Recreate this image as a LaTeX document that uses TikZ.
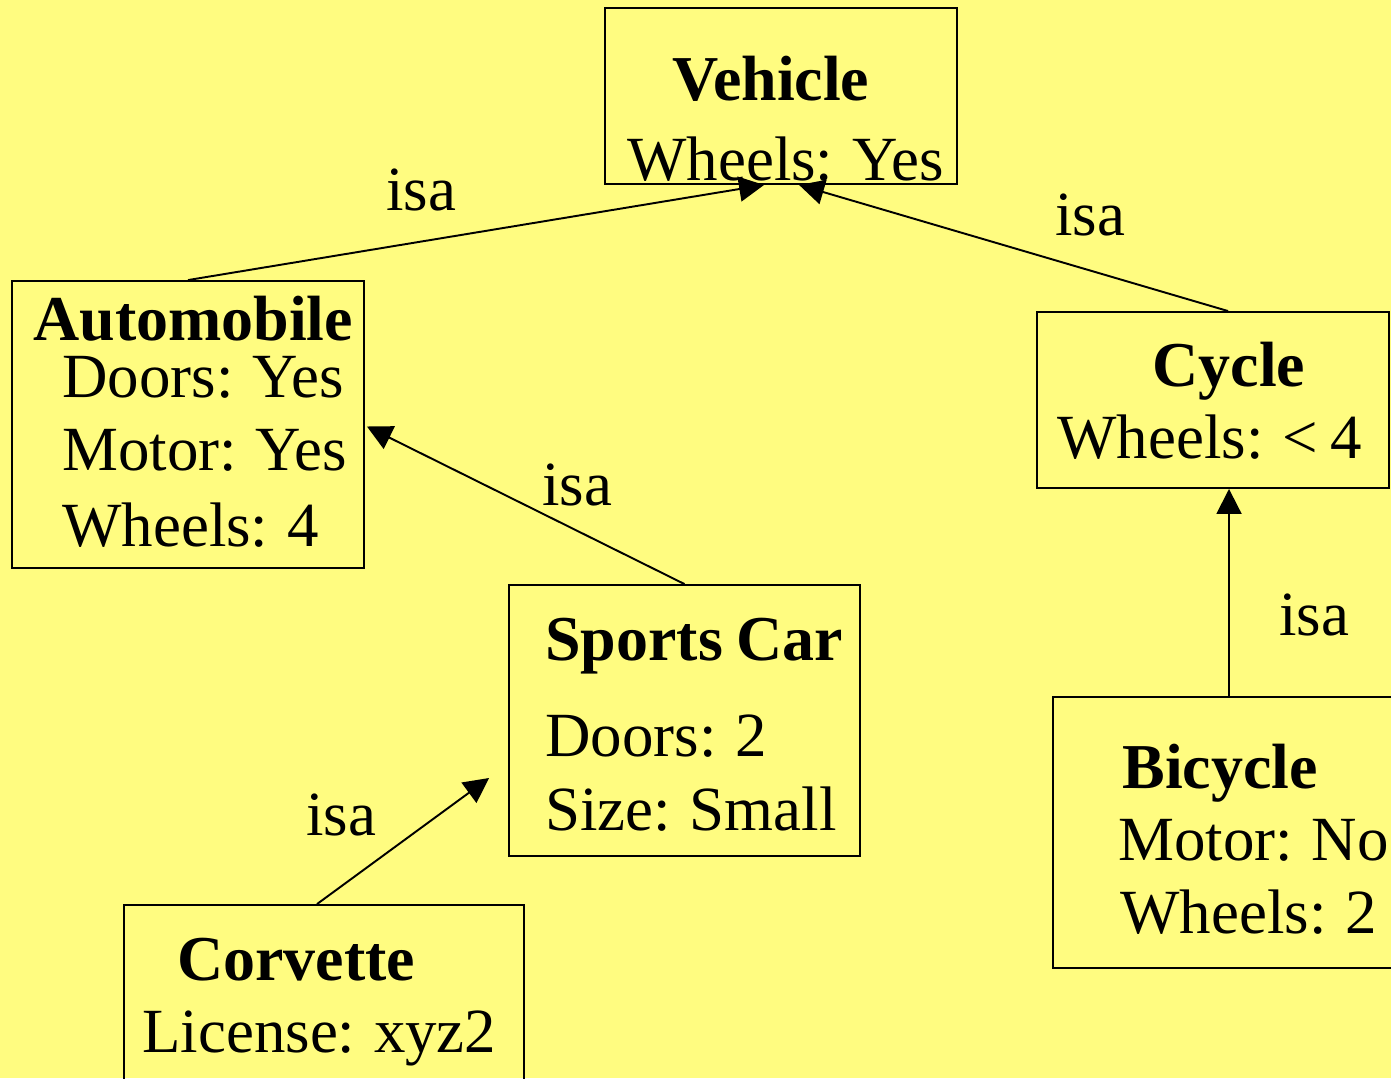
\documentclass[tikz,border=0pt]{standalone}
\usepackage{fontspec}
\setmainfont{Liberation Serif}[WordSpace=0.85]
\usetikzlibrary{arrows.meta,calc}
\definecolor{bgyellow}{RGB}{255,252,128}
\begin{document}
\begin{tikzpicture}[x=0.02cm,y=-0.02cm,
  box/.style={draw,line width=1.1pt,inner sep=0pt},
  txt/.style={inner sep=0pt,anchor=base west,font=\fontsize{35.8}{42}\selectfont},
  ttl/.style={txt,font=\fontsize{36.4}{42}\selectfont\bfseries},
  isaarrow/.style={line width=1.1pt,-{Triangle[length=0.5cm,width=0.5cm]}}]
\useasboundingbox (0,0) rectangle (1391,1078);
\fill[bgyellow] (0,0) rectangle (1391,1078);
\clip (0,0) rectangle (1391,1078);
% boxes
\node[box,minimum width=7.04cm,minimum height=3.52cm] (veh) at (781,96) {};
\node[box,minimum width=7.04cm,minimum height=5.74cm] (auto) at (188,424.5) {};
\node[box,minimum width=7.04cm,minimum height=3.52cm] (cyc) at (1213,400) {};
\node[box,minimum width=7.02cm,minimum height=5.42cm] (sports) at (684.5,720.5) {};
\node[box,minimum width=7.04cm,minimum height=5.42cm] (bic) at (1229,832.5) {};
\node[box,minimum width=8.0cm,minimum height=3.9cm] (corv) at (324,1002.5) {};
% texts
\node[ttl,anchor=base] (vehT) at (771,100) {Vehicle};
\node[txt] (vehA) at (627,180) {Wheels: Yes};
\node[ttl] (autoT) at (33,340) {Automobile};
\node[txt] (autoA) at (62,397) {Doors: Yes};
\node[txt] (autoB) at (62,470) {Motor: Yes};
\node[txt] (autoC) at (62,546) {Wheels: 4};
\node[ttl,anchor=base] (cycT) at (1229,386) {Cycle};
\node[txt] (cycA) at (1057,458) {Wheels: < 4};
\node[ttl] (sportsT) at (545,660) {Sports Car};
\node[txt] (sportsA) at (545,756) {Doors: 2};
\node[txt] (sportsB) at (545,830) {Size: Small};
\node[ttl] (bicT) at (1122,788) {Bicycle};
\node[txt] (bicA) at (1118,860) {Motor: No};
\node[txt] (bicB) at (1120,933) {Wheels: 2};
\node[ttl] (corvT) at (177,980) {Corvette};
\node[txt] (corvA) at (142,1052) {License: xyz2};
% connectors
\draw[isaarrow] (auto.north) -- ($(veh.south west)+(160,0)$);
\draw[isaarrow] ($(cyc.north)+(15,0)$) -- ($(veh.south west)+(195,0)$);
\draw[isaarrow] (sports.north) -- ($(auto.east)+(2,2)$);
\draw[isaarrow] (bic.north) -- (bic.north |- cyc.south);
\draw[isaarrow] ($(corv.north)+(-7,0)$) -- ($(sports.west)+(-19,57.5)$);
% labels
\node[txt] (isa1) at (386,210) {isa};
\node[txt] (isa2) at (1055,235) {isa};
\node[txt] (isa3) at (542,505) {isa};
\node[txt] (isa4) at (1279,635) {isa};
\node[txt] (isa5) at (306,835) {isa};
\end{tikzpicture}
\end{document}
